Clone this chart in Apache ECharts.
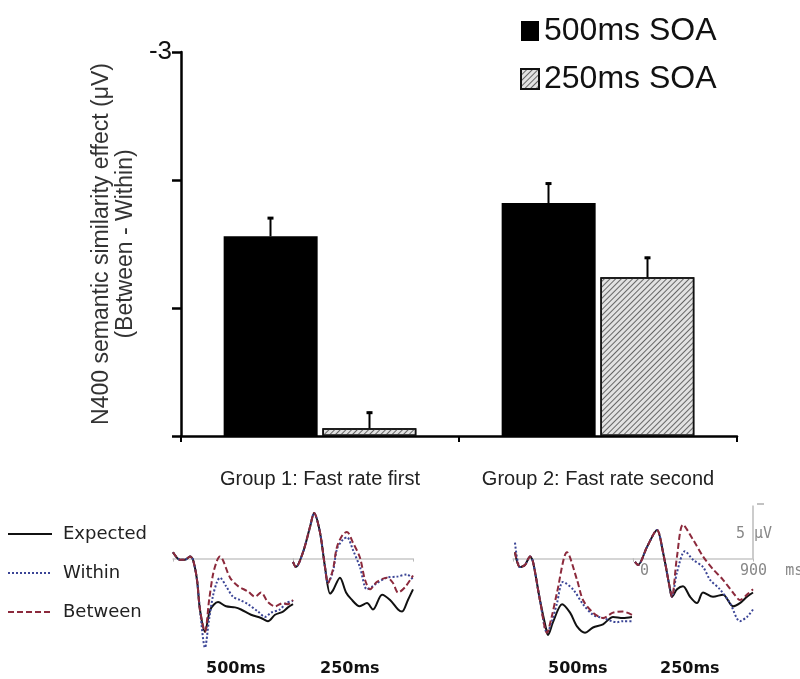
<!DOCTYPE html>
<html>
<head>
<meta charset="utf-8">
<script src="https://cdn.jsdelivr.net/npm/echarts@6/dist/echarts.min.js"></script>
<style>
  html, body { margin: 0; background: #fff; }
  #chart { width: 800px; height: 679px; }
</style>
</head>
<body>
<div id="chart"></div>
<script>
// bar chart data (uV, negative = larger N400 effect)
const categories = ["Group 1: Fast rate first", "Group 2: Fast rate second"];
const soa500 = [-1.56, -1.82];
const soa500Err = [-1.71, -1.98];
const soa250 = [-0.06, -1.24];
const soa250Err = [-0.19, -1.40];

// ERP waveforms: [ms, uV], negative plotted up
const g1s500Onset = [[0, -0.6], [52, 0.1], [90, 0.1], [128, -0.2], [150, 0.1], [180, 2.0], [202, 4.8]];
const g1s500Expected = [...g1s500Onset, [240, 6.9], [280, 4.8], [338, 4.1], [398, 4.5], [465, 4.6], [510, 4.8], [585, 5.3], [660, 5.6], [712, 5.9], [765, 5.3], [825, 5.0], [862, 4.6], [900, 4.3]];
const g1s500Within = [...g1s500Onset, [240, 8.4], [270, 5.8], [300, 3.5], [330, 2.2], [352, 1.8], [398, 2.6], [450, 3.6], [502, 3.9], [562, 4.3], [638, 5.0], [690, 5.5], [735, 5.1], [802, 4.8], [848, 4.2], [900, 4.0]];
const g1s500Between = [...g1s500Onset, [240, 6.9], [270, 4.0], [300, 1.5], [330, 0.2], [352, -0.2], [428, 1.8], [488, 2.6], [562, 3.1], [615, 3.6], [660, 3.2], [712, 4.1], [765, 4.5], [825, 4.2], [862, 4.3], [900, 3.9]];

const g1s250Onset = [[0, 0.3], [22, 0.8], [75, -0.6], [128, -3.0], [158, -4.3], [202, -2.5], [240, 0.8]];
const g1s250Expected = [...g1s250Onset, [278, 3.3], [300, 3.0], [352, 1.8], [398, 3.2], [435, 3.8], [500, 4.5], [555, 4.2], [600, 4.8], [668, 3.4], [728, 3.9], [788, 4.8], [818, 5.0], [862, 3.9], [900, 2.9]];
const g1s250Within = [...g1s250Onset, [262, 2.3], [300, 1.2], [330, -0.9], [375, -1.8], [405, -2.0], [450, -0.8], [502, 0.8], [555, 2.9], [600, 2.6], [630, 2.3], [705, 1.8], [780, 1.7], [855, 1.5], [900, 2.0]];
const g1s250Between = [...g1s250Onset, [262, 2.3], [300, 1.0], [330, -1.1], [375, -2.3], [405, -2.5], [450, -1.5], [502, -0.1], [540, 2.0], [578, 2.9], [630, 2.2], [705, 1.8], [750, 2.3], [788, 3.2], [840, 2.7], [900, 1.6]];

const g2s500Onset = [[52, 0.8], [90, 0.6], [128, -0.2], [150, 0.3], [202, 3.9], [255, 7.0]];
const g2s500Expected = [[15, -0.6], ...g2s500Onset, [262, 7.2], [300, 6.0], [368, 4.3], [428, 5.1], [480, 6.4], [540, 7.0], [600, 6.5], [675, 6.2], [750, 5.5], [825, 5.6], [892, 5.5]];
const g2s500Within = [[15, -1.5], ...g2s500Onset, [290, 6.0], [330, 4.2], [375, 2.2], [450, 2.9], [525, 4.3], [600, 5.3], [675, 5.6], [780, 6.0], [825, 5.9], [892, 5.9]];
const g2s500Between = [[15, -0.6], ...g2s500Onset, [290, 5.5], [330, 3.2], [405, -0.6], [480, 2.0], [525, 3.9], [600, 5.1], [675, 5.6], [750, 5.1], [825, 5.0], [892, 5.3]];

const g2s250Onset = [[15, 0.3], [38, 0.6], [105, -1.1], [180, -2.7], [225, -0.6], [278, 2.9], [292, 3.6]];
const g2s250Expected = [...g2s250Onset, [330, 2.9], [375, 2.6], [428, 3.6], [480, 4.2], [525, 3.2], [600, 3.6], [675, 3.4], [750, 4.5], [802, 4.2], [855, 3.6], [900, 3.2]];
const g2s250Within = [...g2s250Onset, [330, 1.3], [390, -0.7], [450, 0.1], [525, 0.8], [578, 2.0], [652, 2.9], [728, 4.2], [802, 5.9], [855, 5.5], [900, 4.8]];
const g2s250Between = [...g2s250Onset, [330, -0.2], [375, -3.2], [450, -1.8], [525, -0.2], [600, 1.0], [675, 2.0], [750, 3.2], [802, 3.9], [855, 3.4], [900, 2.9]];

const scaleBar = [[900, 0], [900, -5]]; // 5 uV calibration

const panels = [
  [g1s500Expected, g1s500Within, g1s500Between],
  [g1s250Expected, g1s250Within, g1s250Between],
  [g2s500Expected, g2s500Within, g2s500Between],
  [g2s250Expected, g2s250Within, g2s250Between]
];
const panelLeft = [173, 293, 513, 633];
const panelLabels = [["500ms", 236], ["250ms", 350], ["500ms", 578], ["250ms", 690]];

const waveStyle = [
  { name: "Expected", color: "#111111", type: "solid" },
  { name: "Within", color: "#3b4596", type: "dotted" },
  { name: "Between", color: "#8c2a3c", type: [6, 3] }
];

const barWidth = 94;
const chart = echarts.init(document.getElementById("chart"));

function errorSeries(name, means, errs, offset) {
  return {
    type: "custom",
    name: name + " err",
    xAxisIndex: 0,
    yAxisIndex: 0,
    z: 5,
    data: means.map((m, i) => [i, m, errs[i]]),
    encode: { x: 0, y: [1, 2] },
    renderItem: (params, api) => {
      const base = api.coord([api.value(0), api.value(1)]);
      const top = api.coord([api.value(0), api.value(2)]);
      const x = base[0] + offset;
      return {
        type: "group",
        children: [
          { type: "line", shape: { x1: x, y1: base[1], x2: x, y2: top[1] }, style: { stroke: "#000", lineWidth: 2 } },
          { type: "line", shape: { x1: x - 3, y1: top[1] + 1, x2: x + 3, y2: top[1] + 1 }, style: { stroke: "#000", lineWidth: 3 } }
        ]
      };
    }
  };
}

const grids = [{ left: 181, top: 52, width: 556, height: 384 }];
const xAxes = [{
  type: "category",
  gridIndex: 0,
  data: categories,
  axisLine: { lineStyle: { color: "#000", width: 2.5 } },
  axisTick: { show: true, length: 6, lineStyle: { color: "#000", width: 2 } },
  axisLabel: { interval: 0, fontSize: 20, color: "#222", margin: 33, fontFamily: "Liberation Sans" }
}];
const yAxes = [{
  type: "value",
  gridIndex: 0,
  inverse: true,
  min: -3,
  max: 0,
  interval: 1,
  name: "N400 semantic similarity effect (μV)\n(Between - Within)",
  nameLocation: "middle",
  nameGap: 41,
  nameTextStyle: { fontSize: 23, lineHeight: 24, color: "#333", fontFamily: "Liberation Sans" },
  axisLine: { show: true, lineStyle: { color: "#000", width: 2.5 } },
  axisTick: { show: true, length: 9, lineStyle: { color: "#000", width: 2.5 } },
  axisLabel: { formatter: v => (v === -3 ? "-3" : ""), fontSize: 26, color: "#111", margin: 9, fontFamily: "Liberation Sans" },
  splitLine: { show: false }
}];

const series = [
  { type: "bar", name: "500ms SOA", data: soa500, barWidth: barWidth, barGap: "5%", itemStyle: { color: "#000" } },
  {
    type: "bar", name: "250ms SOA", data: soa250, barWidth: barWidth,
    itemStyle: {
      color: "#e2e2e2", borderColor: "#111", borderWidth: 1.5,
      decal: { symbol: "rect", symbolSize: 1, dashArrayX: [1, 0], dashArrayY: [1, 2.2], rotation: -Math.PI / 4, color: "#666" }
    }
  },
  errorSeries("500ms SOA", soa500, soa500Err, -(barWidth + 5) / 2),
  errorSeries("250ms SOA", soa250, soa250Err, (barWidth + 5) / 2)
];

panels.forEach((curves, p) => {
  const idx = p + 1;
  grids.push({ left: panelLeft[p], top: 495, width: 120, height: 159 });
  xAxes.push({
    type: "value", gridIndex: idx, min: 0, max: 900, interval: 900,
    axisLine: { onZero: true, lineStyle: { color: "#c8c8c8", width: 1.5 } },
    axisTick: { show: true, length: 3, lineStyle: { color: "#bbb" } },
    axisLabel: { show: false },
    splitLine: { show: false }
  });
  yAxes.push({ type: "value", gridIndex: idx, min: -6, max: 9, inverse: true, show: false });
  curves.forEach((data, k) => {
    const st = waveStyle[k];
    series.push({
      type: "line", name: st.name, xAxisIndex: idx, yAxisIndex: idx, data: data,
      symbol: "none", smooth: 0.3, z: 3 + k,
      itemStyle: { color: st.color },
      lineStyle: { color: st.color, width: 2, type: st.type }
    });
  });
});

series.push({
  type: "line", xAxisIndex: 4, yAxisIndex: 4, data: scaleBar, symbol: "none", clip: false, silent: true,
  lineStyle: { color: "#aaa", width: 1.2 }
});

const graphics = panelLabels.map(([t, x]) => ({
  type: "text", left: x - 30, top: 661,
  style: { text: t, fill: "#111", font: "bold 16px 'DejaVu Sans'", width: 60, align: "center" }
}));
graphics.push(
  { type: "text", x: 640, y: 564, style: { text: "0", fill: "#888", font: "15px 'DejaVu Sans Mono'" } },
  { type: "text", x: 740, y: 564, style: { text: "900  ms", fill: "#888", font: "15px 'DejaVu Sans Mono'" } },
  { type: "text", x: 736, y: 527, style: { text: "5 μV", fill: "#888", font: "15px 'DejaVu Sans Mono'" } },
  { type: "line", shape: { x1: 757, y1: 504, x2: 764, y2: 504 }, style: { stroke: "#999", lineWidth: 1.2 } }
);

const option = {
  backgroundColor: "#fff",
  animation: false,
  grid: grids,
  xAxis: xAxes,
  yAxis: yAxes,
  legend: [
    {
      data: ["500ms SOA", "250ms SOA"], orient: "vertical", left: 515, top: 10,
      icon: "rect", itemWidth: 18, itemHeight: 20, itemGap: 16, selectedMode: false,
      textStyle: { fontSize: 32, fontFamily: "Liberation Sans", color: "#111" }
    },
    {
      data: ["Expected", "Within", "Between"], orient: "vertical", left: 2, top: 520,
      itemWidth: 44, itemHeight: 14, itemGap: 21, selectedMode: false,
      itemStyle: { opacity: 0 },
      textStyle: { fontSize: 18, fontFamily: "DejaVu Sans", color: "#222", padding: [0, 0, 0, 6] }
    }
  ],
  series: series,
  graphic: graphics
};

chart.setOption(option);
</script>
</body>
</html>
